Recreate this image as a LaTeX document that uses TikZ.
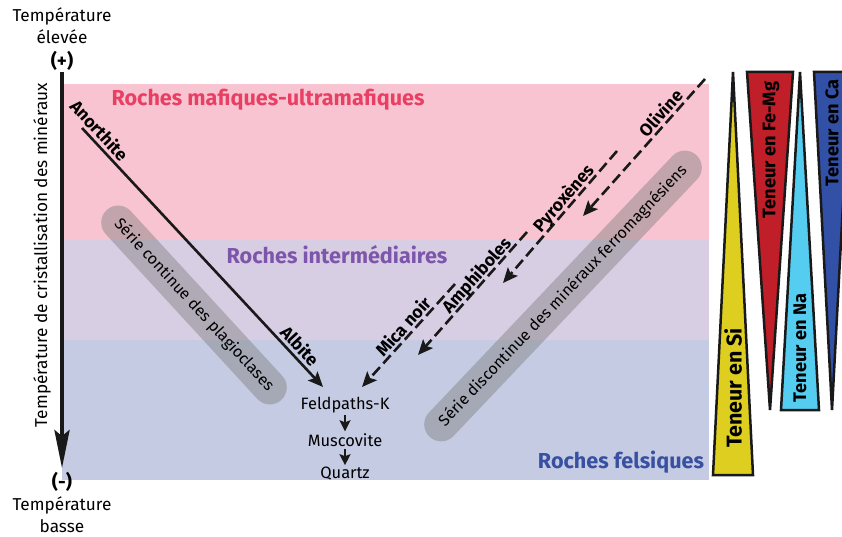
\documentclass[tikz,border=0pt]{standalone}
\usepackage{fontspec}
\setmainfont{Fira Sans}
\usepackage{tikz}
\usetikzlibrary{
  arrows.meta,
  positioning
}
\definecolor{mafpink}{RGB}{249,196,209}
\definecolor{intlav}{RGB}{216,206,228}
\definecolor{felblue}{RGB}{197,203,227}
\definecolor{mafred}{RGB}{232,64,100}
\definecolor{intpurple}{RGB}{125,85,170}
\definecolor{felsblue}{RGB}{55,80,160}
\definecolor{siyellow}{RGB}{222,206,32}
\definecolor{fered}{RGB}{192,30,40}
\definecolor{nacyan}{RGB}{85,205,240}
\definecolor{cablue}{RGB}{50,80,165}
\newcommand{\fsz}[1]{\fontsize{#1}{#1}\selectfont}
\tikzset{
  regionlbl/.style={font=\bfseries\fsz{21.7}, inner sep=0pt},
  minlbl/.style={font=\bfseries\fsz{17.5}, inner sep=0pt, anchor=base},
  seqlbl/.style={font=\fsz{16.5}, inner sep=2bp},
  seriesband/.style={fill=gray, fill opacity=0.45, text opacity=1,
    rounded corners=17bp, minimum height=34bp, inner sep=0pt,
    font=\fsz{16}},
  tri/.style={draw=black!90, line width=2.5bp, line join=miter},
  trilbl/.style={font=\bfseries\fsz{18.3}, rotate=90, inner sep=0pt},
  axislbl/.style={font=\fontsize{17.3}{22}\selectfont, align=center,
    inner sep=0pt},
  arr/.style={-{Stealth[length=15bp,width=13bp,inset=3bp]},
    line width=2.6bp, black!90},
  darr/.style={arr, dash pattern=on 11bp off 5bp},
  sarr/.style={-{Stealth[length=11bp,width=11bp,inset=2bp]},
    line width=2bp, black!90},
}

\begin{document}
\begin{tikzpicture}[x=1bp,y=1bp]
  \useasboundingbox (0,0) rectangle (842,-537);

  % Rock bands
  \fill[mafpink] (62,-84) rectangle (709,-240);
  \fill[intlav] (62,-240) rectangle (709,-340);
  \fill[felblue] (62,-340) rectangle (709,-480);

  \node[regionlbl, text=mafred] (maf) at (268,-100)
    {Roches mafiques-ultramafiques};
  \node[regionlbl, text=intpurple] (inter) at (337,-255)
    {Roches interm\'ediaires};
  \node[regionlbl, text=felsblue] (fels) at (621,-462)
    {Roches felsiques};

  % Temperature axis
  \node[font=\bfseries\fsz{19}, inner sep=0pt] (plus) at (62,-61) {(+)};
  \node[font=\bfseries\fsz{19}, inner sep=0pt] (minus) at (62,-482) {(-)};
  \node[axislbl, above=7bp of plus] (thot) {Temp\'erature\\\'elev\'ee};
  \node[axislbl, below=5bp of minus] (tcold) {Temp\'erature\\basse};
  \draw[line width=4.5bp, black!90,
        -{Stealth[length=38bp,width=15bp,inset=6bp]},
        shorten <=1bp, shorten >=4bp] (plus) -- (minus);
  \node[axislbl, rotate=90] (axlbl) at (42,-255)
    {Temp\'erature de cristallisation des min\'eraux};

  % Series bands
  \node[seriesband, rotate=-47.4, minimum width=258bp] (plag)
    at (194,-305) {S\'erie continue des plagioclases};
  \node[seriesband, rotate=46.5, minimum width=388bp] (ferro)
    at (563,-296) {S\'erie discontinue des min\'eraux ferromagn\'esiens};

  % Continuous series
  \coordinate (anoA) at (82,-128);
  \coordinate (anoB) at (323,-387);
  \draw[arr] (anoA) -- (anoB);
  \node[minlbl, rotate=-47.1] (anorthite) at (94.5,-135) {Anorthite};
  \node[minlbl, rotate=-47.1] (albite) at (295,-350.5) {Albite};

  % Discontinuous series
  \coordinate (oliA) at (705,-79);
  \coordinate (oliB) at (583,-216);
  \coordinate (pyrA) at (617,-151);
  \coordinate (pyrB) at (503,-283);
  \coordinate (amphA) at (527,-232);
  \coordinate (amphB) at (418,-355);
  \coordinate (micaA) at (455,-284);
  \coordinate (micaB) at (362,-387);
  \draw[darr] (oliA) -- (oliB);
  \draw[darr] (pyrA) -- (pyrB);
  \draw[darr] (amphA) -- (amphB);
  \draw[darr] (micaA) -- (micaB);
  \node[minlbl, rotate=48.3] (olivine) at (665.5,-117.5) {Olivine};
  \node[minlbl, rotate=49.2] (pyrox) at (568,-202) {Pyrox\`enes};
  \node[minlbl, rotate=48.5] (amphi) at (481,-279) {Amphiboles};
  \node[minlbl, rotate=47.9] (mica) at (408,-331) {Mica noir};

  % Common end of the series
  \node[seqlbl] (feld) at (345,-405) {Feldpaths-K};
  \node[seqlbl] (musc) at (345,-440) {Muscovite};
  \node[seqlbl] (quartz) at (345,-474) {Quartz};
  \draw[sarr] (feld) -- (musc);
  \draw[sarr] (musc) -- (quartz);

  % Element contents
  \draw[tri, fill=siyellow] (733,-72) -- (753,-475) -- (713,-475) -- cycle;
  \draw[tri, fill=fered] (747,-72) -- (793,-72) -- (770,-410) -- cycle;
  \draw[tri, fill=nacyan] (800,-72) -- (819,-410) -- (781,-410) -- cycle;
  \draw[tri, fill=cablue] (814,-72) -- (850,-72) -- (832,-410) -- cycle;
  \node[trilbl, font=\bfseries\fsz{21.5}] (si) at (733,-388) {Teneur en Si};
  \node[trilbl] (femg) at (771,-150) {Teneur en Fe-Mg};
  \node[trilbl] (na) at (800,-348) {Teneur en Na};
  \node[trilbl] (ca) at (832,-133) {Teneur en Ca};
\end{tikzpicture}
\end{document}
